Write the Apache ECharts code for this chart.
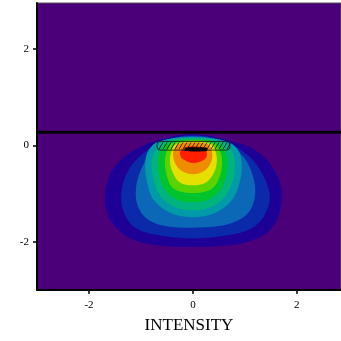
<!DOCTYPE html>
<html>
<head>
<meta charset="utf-8">
<script src="https://cdn.jsdelivr.net/npm/echarts@6/dist/echarts.min.js"></script>
<style>
  html, body { margin: 0; padding: 0; background: #fff; }
  #chart { width: 341px; height: 341px; }
</style>
</head>
<body>
<div id="chart"></div>
<script>
// axis ranges and ticks
const xRange = [-3, 2.85];
const yRange = [-3, 2.95];
const tickValues = [-2, 0, 2];

// filled contour bands, outer to inner (points in data units)
const bandColors = ['#1e0096', '#0a2aaa', '#0a68b6', '#009aa8', '#00b47e', '#00c42c', '#5ad400', '#e6e000', '#f08c00', '#ff1e00', '#000000'];

const band1 = [[0, 0.23], [0.71, 0.1], [1.23, -0.12], [1.54, -0.46], [1.71, -0.93], [1.67, -1.39], [1.48, -1.76], [1.1, -1.99], [0.56, -2.09], [0, -2.11], [-0.58, -2.09], [-1.12, -1.97], [-1.48, -1.71], [-1.67, -1.35], [-1.69, -0.97], [-1.56, -0.52], [-1.21, -0.15], [-0.69, 0.1]];
const band2 = [[0, 0.21], [0.67, 0.06], [1.1, -0.25], [1.35, -0.62], [1.48, -1.04], [1.4, -1.41], [1.19, -1.68], [0.81, -1.84], [0, -1.93], [-0.79, -1.84], [-1.15, -1.68], [-1.33, -1.39], [-1.38, -1.04], [-1.29, -0.62], [-1.06, -0.27], [-0.63, 0.06]];
const band3 = [[0, 0.19], [0.64, 0.06], [0.98, -0.25], [1.15, -0.62], [1.2, -0.99], [1.12, -1.31], [0.92, -1.53], [0.54, -1.67], [0, -1.71], [-0.56, -1.67], [-0.9, -1.51], [-1.06, -1.26], [-1.1, -0.97], [-1.04, -0.62], [-0.88, -0.27], [-0.6, 0.06]];
const band4 = [[0, 0.17], [0.66, 0.08], [0.88, -0.12], [0.94, -0.41], [0.9, -0.77], [0.75, -1.14], [0.42, -1.41], [0, -1.49], [-0.42, -1.41], [-0.75, -1.14], [-0.88, -0.77], [-0.92, -0.41], [-0.86, -0.12], [-0.66, 0.08]];
const band5 = [[0, 0.15], [0.58, 0.07], [0.75, -0.12], [0.81, -0.37], [0.77, -0.73], [0.62, -1.06], [0.35, -1.28], [0, -1.35], [-0.35, -1.28], [-0.62, -1.06], [-0.75, -0.73], [-0.79, -0.37], [-0.73, -0.12], [-0.58, 0.07]];
const band6 = [[0, 0.12], [0.5, 0.05], [0.63, -0.13], [0.67, -0.37], [0.63, -0.68], [0.5, -0.97], [0.27, -1.14], [0, -1.18], [-0.27, -1.14], [-0.5, -0.97], [-0.63, -0.68], [-0.67, -0.37], [-0.63, -0.13], [-0.5, 0.05]];
const band7 = [[0, 0.1], [0.4, 0.04], [0.53, -0.15], [0.56, -0.37], [0.52, -0.64], [0.4, -0.87], [0.21, -0.97], [0, -0.99], [-0.21, -0.97], [-0.4, -0.87], [-0.5, -0.64], [-0.54, -0.37], [-0.51, -0.15], [-0.4, 0.04]];
const band8 = [[0, 0.08], [0.35, 0.02], [0.44, -0.15], [0.46, -0.35], [0.4, -0.58], [0.25, -0.77], [0, -0.83], [-0.25, -0.77], [-0.38, -0.58], [-0.44, -0.35], [-0.42, -0.15], [-0.33, 0.02]];
const band9 = [[0, 0.06], [0.29, 0.02], [0.37, -0.15], [0.35, -0.35], [0.23, -0.52], [0, -0.6], [-0.23, -0.52], [-0.35, -0.35], [-0.38, -0.15], [-0.29, 0.02]];
const band10 = [[0, -0.02], [0.21, -0.06], [0.27, -0.17], [0.23, -0.29], [0.02, -0.37], [-0.19, -0.29], [-0.25, -0.17], [-0.19, -0.06]];
const band11 = [[-0.15, -0.05], [0.27, -0.05], [0.27, -0.12], [-0.15, -0.12]];
const bands = [band1, band2, band3, band4, band5, band6, band7, band8, band9, band10, band11];

// hatched source box and surface line
const sourceBox = [-0.69, 0.08, 0.71, -0.1];
const surfaceY = 0.27;

const chart = echarts.init(document.getElementById('chart'));

const serif = 'Liberation Serif';

chart.setOption({
  animation: false,
  grid: {
    left: 37, top: 3, right: 0, bottom: 51,
    show: true, backgroundColor: '#4b0079', borderColor: '#555', borderWidth: 1
  },
  xAxis: {
    type: 'value', min: xRange[0], max: xRange[1],
    name: 'INTENSITY', nameLocation: 'middle', nameGap: 27,
    nameTextStyle: { fontFamily: serif, fontSize: 17, color: '#000' },
    axisLine: { show: true, onZero: false, lineStyle: { color: '#000', width: 2 } },
    axisTick: { show: true, customValues: tickValues, length: 4, lineStyle: { color: '#000', width: 1.5 } },
    axisLabel: { customValues: tickValues, margin: 10, fontFamily: serif, fontSize: 11, color: '#000' },
    splitLine: { show: false }
  },
  yAxis: {
    type: 'value', min: yRange[0], max: yRange[1],
    axisLine: { show: true, onZero: false, lineStyle: { color: '#000', width: 2 } },
    axisTick: { show: true, customValues: tickValues, length: 4, lineStyle: { color: '#000', width: 1.5 } },
    axisLabel: { customValues: tickValues, margin: 8, fontFamily: serif, fontSize: 11, color: '#000' },
    splitLine: { show: false }
  },
  series: [
    {
      type: 'custom',
      clip: true,
      data: bands.map((b, i) => [i]),
      renderItem: function (params, api) {
        const i = params.dataIndex;
        const pts = bands[i].map(p => api.coord(p));
        return {
          type: 'polygon',
          shape: { points: pts, smooth: i < 10 ? 0.35 : 0.2 },
          style: { fill: bandColors[i] }
        };
      }
    },
    {
      type: 'custom',
      clip: true,
      data: [sourceBox],
      renderItem: function (params, api) {
        const a = api.coord([api.value(0), api.value(1)]);
        const b = api.coord([api.value(2), api.value(3)]);
        const children = [{
          type: 'rect',
          shape: { x: a[0], y: a[1], width: b[0] - a[0], height: b[1] - a[1], r: 3 },
          style: { fill: 'none', stroke: '#111', lineWidth: 0.8 }
        }];
        for (let x = a[0] + 2; x < b[0] - 2; x += 4) {
          children.push({
            type: 'line',
            shape: { x1: x, y1: b[1] - 1, x2: x + 4, y2: a[1] + 1 },
            style: { stroke: '#111', lineWidth: 0.8 }
          });
        }
        return { type: 'group', children: children };
      }
    },
    {
      type: 'line',
      symbol: 'none',
      data: [[xRange[0], surfaceY], [xRange[1], surfaceY]],
      lineStyle: { color: '#000', width: 3 },
      z: 5
    }
  ]
});
</script>
</body>
</html>
